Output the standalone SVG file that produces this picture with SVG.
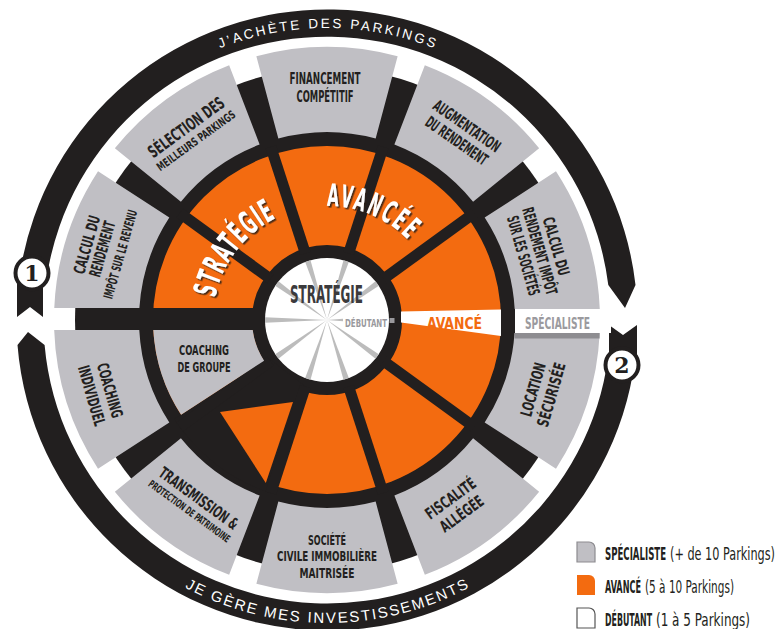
<svg xmlns="http://www.w3.org/2000/svg" width="778" height="629" viewBox="0 0 778 629">
  <defs>
    <style>
      .k{fill:#221f1f}
      .g{fill:#c0bfc4}
      .o{fill:#f36b10}
      .ray{fill:#bcbcbc}
      .lb{font-family:'DejaVu Sans Condensed','DejaVu Sans',sans-serif;font-weight:bold;font-stretch:condensed;font-size:16px;fill:#231f20;text-anchor:middle}
      .ring{font-family:'Liberation Sans',Arial,sans-serif;font-size:13.5px;fill:#fff;text-anchor:middle}
      .big{font-family:'DejaVu Sans Condensed','DejaVu Sans',sans-serif;font-weight:bold;font-stretch:condensed;font-size:32px;fill:#fff;text-anchor:middle}
      .lg{font-family:'DejaVu Sans Condensed','DejaVu Sans',sans-serif;font-stretch:condensed;font-size:17px;fill:#231f20}
      .lgb{font-weight:bold}
      .num{font-family:'DejaVu Serif','Liberation Serif',serif;font-weight:bold;font-size:22px;fill:#221f1f;text-anchor:middle}
    </style>
    <filter id="shadow" x="-10%" y="-10%" width="130%" height="130%">
      <feDropShadow dx="1.6" dy="1.6" stdDeviation="0.6" flood-color="#2a1c14" flood-opacity="0.85"/>
    </filter>
    <!-- baseline arcs for curved lettering, centre (327,320) -->
    <path id="pT" d="M74.12 174 A292 292 0 0 1 579.88 174"/>
    <path id="pB" d="M64.6 471.5 A303 303 0 0 0 589.4 471.5"/>
    <path id="pS" d="M242.95 397.02 A114 114 0 0 1 379.63 218.88"/>
    <path id="pA" d="M231.39 257.92 A114 114 0 0 1 438.08 345.65"/>
    <polygon id="rayShape" points="327,320 324.2,258 329.8,258"/>
  </defs>

  <rect width="778" height="629" fill="#fff"/>

  <!-- outer cycle: two arrowed arcs with numbered badges -->
  <g id="cycle">
    <path class="k" d="M20.3 271.4 A310.5 310.5 0 0 1 635.5 285 L625 308 L608.3 285 A283.5 283.5 0 0 0 47 275.7 Z"/>
    <path class="k" d="M632.8 373.9 A310.5 310.5 0 0 1 17.5 345 L28 332 L44.6 345 A283.5 283.5 0 0 0 606.2 369.2 Z"/>
    <text class="ring"><textPath href="#pT" startOffset="50%" textLength="219">J’ACHÈTE DES PARKINGS</textPath></text>
    <text class="ring" style="font-size:15px"><textPath href="#pB" startOffset="50%" textLength="296">JE GÈRE MES INVESTISSEMENTS</textPath></text>
  </g>

  <g id="badge-1">
    <polygon class="k" points="17,283 43,283 43,317 30,307 17,317"/>
    <circle cx="32" cy="273" r="16.5" fill="#fff" stroke="#221f1f" stroke-width="4"/>
    <text class="num" x="32" y="281">1</text>
  </g>
  <g id="badge-2">
    <polygon class="k" points="609,325 623,335 637,325 637,362 609,362"/>
    <circle cx="622" cy="365" r="16.5" fill="#fff" stroke="#221f1f" stroke-width="4"/>
    <text class="num" x="622" y="373">2</text>
  </g>

  <!-- wheel base -->
  <g id="wheel-base">
    <circle class="k" cx="327" cy="320" r="252"/>
    <circle cx="327" cy="320" r="124.5" fill="none" stroke="#f36b10" stroke-width="99"/>
    <rect class="k" x="140" y="308" width="122" height="22"/>
    <path class="k" d="M305.37 386.58 L270.76 493.1 A182 182 0 0 1 174.36 419.12 L268.29 358.12 Z"/>
    <polygon class="o" points="220,412 293,402 265.8,483"/>
    <g stroke="#221f1f" stroke-width="11">
      <line x1="348.63" y1="253.42" x2="383.24" y2="146.9"/>
      <line x1="383.63" y1="278.85" x2="474.24" y2="213.02"/>
      <line x1="383.63" y1="361.15" x2="474.24" y2="426.98"/>
      <line x1="348.63" y1="386.58" x2="383.24" y2="493.1"/>
      <line x1="305.37" y1="386.58" x2="270.76" y2="493.1"/>
      <line x1="270.37" y1="361.15" x2="179.76" y2="426.98"/>
      <line x1="270.37" y1="278.85" x2="179.76" y2="213.02"/>
      <line x1="305.37" y1="253.42" x2="270.76" y2="146.9"/>
    </g>
  </g>

  <g id="coaching-groupe">
    <path class="g" d="M181.1 414.8 A174 174 0 0 1 153.3 330 L252.7 330 A75 75 0 0 0 264.1 360.8 Z"/>
    <g transform="translate(204,357)">
      <text class="lb" style="font-size:14.5px" y="-1.8" textLength="50" lengthAdjust="spacingAndGlyphs">COACHING</text>
      <text class="lb" style="font-size:14.5px" y="14.7" textLength="53" lengthAdjust="spacingAndGlyphs">DE GROUPE</text>
    </g>
  </g>

  <g id="level-avance">
    <polygon fill="#fff" points="401,311.5 501,309.5 501,336 401,322.5"/>
    <text class="lb" x="454.5" y="328.5" style="font-size:15px;fill:#f36b10" textLength="55" lengthAdjust="spacingAndGlyphs">AVANCÉ</text>
  </g>

  <g id="level-specialiste">
    <rect x="515" y="309" width="96" height="24" fill="#fff"/>
    <text class="lb" x="557.5" y="328.5" style="font-size:16px;fill:#9b9a9e" textLength="65" lengthAdjust="spacingAndGlyphs">SPÉCIALISTE</text>
  </g>

  <g id="financement">
    <path class="g" d="M256.35 56.31 A273 273 0 0 1 397.65 56.31 L375.65 138.41 A188 188 0 0 0 278.35 138.41 Z"/>
    <g transform="translate(325,87)">
      <text class="lb" y="-3" textLength="71" lengthAdjust="spacingAndGlyphs">FINANCEMENT</text>
      <text class="lb" y="15" textLength="57" lengthAdjust="spacingAndGlyphs">COMPÉTITIF</text>
    </g>
  </g>

  <g id="augmentation">
    <path class="g" d="M424.84 65.13 A273 273 0 0 1 539.15 148.2 L473.09 201.69 A188 188 0 0 0 394.38 144.48 Z"/>
    <g transform="translate(462,133) rotate(35)">
      <text class="lb" y="-3" textLength="78" lengthAdjust="spacingAndGlyphs">AUGMENTATION</text>
      <text class="lb" y="15" textLength="72" lengthAdjust="spacingAndGlyphs">DU RENDEMENT</text>
    </g>
  </g>

  <g id="calcul-societes">
    <path class="g" d="M555.97 171.32 A273 273 0 0 1 599.78 309 L514.68 309 A188 188 0 0 0 484.68 217.62 Z"/>
    <g transform="translate(540,251) rotate(74)">
      <text class="lb" y="-11.2" textLength="60" lengthAdjust="spacingAndGlyphs">CALCUL DU</text>
      <text class="lb" y="5.8" textLength="90" lengthAdjust="spacingAndGlyphs">RENDEMENT IMPÔT</text>
      <text class="lb" y="22.8" textLength="82" lengthAdjust="spacingAndGlyphs">SUR LES SOCIÉTÉS</text>
    </g>
  </g>

  <g id="location">
    <path class="g" d="M599.69 333 A273 273 0 0 1 555.97 468.68 L484.68 422.38 A188 188 0 0 0 514.55 333 Z"/>
    <rect x="514.6" y="333" width="85" height="5.5" fill="#8e8d91"/>
    <g transform="translate(542,392) rotate(-74)">
      <text class="lb" y="-3.7" textLength="55" lengthAdjust="spacingAndGlyphs">LOCATION</text>
      <text class="lb" y="15.3" textLength="66" lengthAdjust="spacingAndGlyphs">SÉCURISÉE</text>
    </g>
  </g>

  <g id="fiscalite">
    <path class="g" d="M539.15 491.8 A273 273 0 0 1 424.84 574.87 L394.38 495.52 A188 188 0 0 0 473.09 438.31 Z"/>
    <g transform="translate(456,506) rotate(-36)">
      <text class="lb" y="-3.7" textLength="58" lengthAdjust="spacingAndGlyphs">FISCALITÉ</text>
      <text class="lb" y="15.3" textLength="50" lengthAdjust="spacingAndGlyphs">ALLÉGÉE</text>
    </g>
  </g>

  <g id="societe-civile">
    <path class="g" d="M397.65 583.69 A273 273 0 0 1 256.35 583.69 L278.35 501.59 A188 188 0 0 0 375.65 501.59 Z"/>
    <g transform="translate(327,556)">
      <text class="lb" style="font-size:14px" y="-11" textLength="38" lengthAdjust="spacingAndGlyphs">SOCIÉTÉ</text>
      <text class="lb" style="font-size:14px" y="5.3" textLength="100" lengthAdjust="spacingAndGlyphs">CIVILE IMMOBILIÈRE</text>
      <text class="lb" style="font-size:14px" y="22.3" textLength="55" lengthAdjust="spacingAndGlyphs">MAITRISÉE</text>
    </g>
  </g>

  <g id="transmission">
    <path class="g" d="M229.16 574.87 A273 273 0 0 1 114.85 491.8 L180.91 438.31 A188 188 0 0 0 259.62 495.52 Z"/>
    <g transform="translate(199,498) rotate(36)">
      <text class="lb" y="6" textLength="94" lengthAdjust="spacingAndGlyphs">TRANSMISSION &amp;</text>
      <text class="lb" style="font-size:10.5px" y="20" textLength="98" lengthAdjust="spacingAndGlyphs">PROTECTION DE PATRIMOINE</text>
    </g>
  </g>

  <g id="coaching-individuel">
    <path class="g" d="M98.03 468.68 A273 273 0 0 1 54.18 330 L139.27 330 A188 188 0 0 0 169.32 422.38 Z"/>
    <g transform="translate(101,393) rotate(74)">
      <text class="lb" y="-3.7" textLength="56" lengthAdjust="spacingAndGlyphs">COACHING</text>
      <text class="lb" y="15.3" textLength="62" lengthAdjust="spacingAndGlyphs">INDIVIDUEL</text>
    </g>
  </g>

  <g id="calcul-revenu">
    <path class="g" d="M54.26 308 A273 273 0 0 1 98.03 171.32 L169.32 217.62 A188 188 0 0 0 139.38 308 Z"/>
    <g transform="translate(102,249) rotate(-74)">
      <text class="lb" y="-10.2" textLength="60" lengthAdjust="spacingAndGlyphs">CALCUL DU</text>
      <text class="lb" y="5.8" textLength="57" lengthAdjust="spacingAndGlyphs">RENDEMENT</text>
      <text class="lb" style="font-size:13px" y="23.7" textLength="92" lengthAdjust="spacingAndGlyphs">IMPÔT SUR LE REVENU</text>
    </g>
  </g>

  <g id="selection">
    <path class="g" d="M114.85 148.2 A273 273 0 0 1 229.16 65.13 L259.62 144.48 A188 188 0 0 0 180.91 201.69 Z"/>
    <g transform="translate(186,127) rotate(-36)">
      <text class="lb" style="font-size:17px" y="6.2" textLength="90" lengthAdjust="spacingAndGlyphs">SÉLECTION DES</text>
      <text class="lb" style="font-size:11.5px" y="21" textLength="94" lengthAdjust="spacingAndGlyphs">MEILLEURS PARKINGS</text>
    </g>
  </g>

  <!-- beginner hub -->
  <g id="hub">
    <circle cx="327" cy="320" r="62" fill="#fff"/>
    <use href="#rayShape" class="ray" transform="rotate(18 327 320)"/>
    <use href="#rayShape" class="ray" transform="rotate(54 327 320)"/>
    <use href="#rayShape" class="ray" transform="rotate(126 327 320)"/>
    <use href="#rayShape" class="ray" transform="rotate(162 327 320)"/>
    <use href="#rayShape" class="ray" transform="rotate(198 327 320)"/>
    <use href="#rayShape" class="ray" transform="rotate(234 327 320)"/>
    <use href="#rayShape" class="ray" transform="rotate(270 327 320)"/>
    <use href="#rayShape" class="ray" transform="rotate(306 327 320)"/>
    <use href="#rayShape" class="ray" transform="rotate(342 327 320)"/>
    <polygon class="ray" points="327,320 343,318.8 343,321.2"/>
    <text class="lb" x="326.5" y="303" style="font-size:24px;fill:#3b3a3c" textLength="73" lengthAdjust="spacingAndGlyphs">STRATÉGIE</text>
    <text class="lb" x="366" y="326.5" style="font-size:11px;fill:#9a999d" textLength="42" lengthAdjust="spacingAndGlyphs">DÉBUTANT</text>
    <rect x="389.5" y="318" width="5" height="5" fill="#9a999d"/>
  </g>

  <g id="titles" filter="url(#shadow)">
    <text class="big" style="letter-spacing:2px"><textPath href="#pS" startOffset="50%" textLength="105" lengthAdjust="spacingAndGlyphs">STRATÉGIE</textPath></text>
    <text class="big" style="font-size:31px;letter-spacing:4px"><textPath href="#pA" startOffset="50%" textLength="92" lengthAdjust="spacingAndGlyphs">AVANCÉE</textPath></text>
  </g>

  <!-- key: condensed lettering is squeezed horizontally -->
  <g id="legend">
    <path d="M577 542h12a6 6 0 0 1 6 6v14h-18z" fill="#c0bfc4" stroke="#8d8c90" stroke-width="1.2"/>
    <path d="M577 575h12a6 6 0 0 1 6 6v14h-18z" fill="#f36b10"/>
    <path d="M577 608h12a6 6 0 0 1 6 6v14h-18z" fill="#fff" stroke="#555" stroke-width="1.2"/>
    <text class="lg lgb" transform="translate(605,560) scale(0.56,1)" textLength="109" lengthAdjust="spacingAndGlyphs">SPÉCIALISTE</text>
    <text class="lg" transform="translate(670,560) scale(0.73,1)" textLength="143.8" lengthAdjust="spacingAndGlyphs">(+ de 10 Parkings)</text>
    <text class="lg lgb" transform="translate(605,593) scale(0.51,1)" textLength="70.6" lengthAdjust="spacingAndGlyphs">AVANCÉ</text>
    <text class="lg" transform="translate(645,593) scale(0.68,1)" textLength="130.9" lengthAdjust="spacingAndGlyphs">(5 à 10 Parkings)</text>
    <text class="lg lgb" transform="translate(605,626) scale(0.51,1)" textLength="92.2" lengthAdjust="spacingAndGlyphs">DÉBUTANT</text>
    <text class="lg" transform="translate(656,626) scale(0.72,1)" textLength="130.6" lengthAdjust="spacingAndGlyphs">(1 à 5 Parkings)</text>
  </g>
</svg>
